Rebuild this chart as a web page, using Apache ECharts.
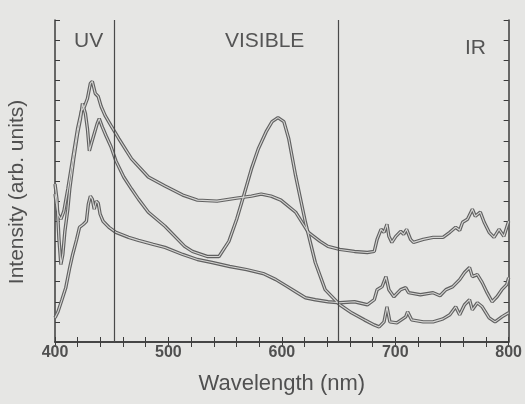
<!DOCTYPE html>
<html>
<head>
<meta charset="utf-8">
<script src="https://cdn.jsdelivr.net/npm/echarts@6/dist/echarts.min.js"></script>
<style>
  html, body { margin: 0; padding: 0; background: #e6e6e4; }
  #chart { width: 525px; height: 404px; }
</style>
</head>
<body>
<div id="chart"></div>
<script>
// Emission spectra, three samples (arbitrary intensity units)
const wavelengthA = [400,402.6,405.2,407.8,411.3,415.6,419.9,423.4,426,428.6,431.2,432.9,435.5,438.1,440.7,444.2,449.4,456.3,467.5,482.3,497,512.6,525.6,542.9,560.2,573.2,581.8,590.5,599.2,612.2,623.4,633.8,640.7,651.1,664.1,675.4,681.5,684,687.5,690.1,692.7,694.4,697,700.5,704.8,707.4,710,713.5,716.1,724.7,733.4,742.1,748.1,753.3,756.8,759.4,763.7,768,770.6,775,778.4,782.8,787.1,791.5,795.8,800];
const intensityA  = [147,127,122,130,152,182,212,230,234,242,257,259,247,244,234,225,215,202,182,164,155,146,141,140,143,145,147,145,141,129,109,100,95,92,90,89,90,102,112,109,117,105,99,105,110,107,112,102,99,102,104,104,109,114,111,119,122,132,125,129,119,109,104,112,105,120];

const wavelengthB = [400,401.7,403.5,405.2,406.9,408.7,411.3,413,416.5,419.9,422.5,424.2,426.8,428.6,430.3,432,434.6,437.2,439,441.6,445,449.4,453.7,460.6,467.5,473.6,482.3,497,514.3,521.2,534.2,544.6,553.3,560.2,566.3,573.2,579.3,586.2,591.4,596.6,601.8,606.1,612.2,620.8,629.5,638.2,649.4,651.1,661.5,672.8,681.5,685.8,690.1,692.7,695.3,701.4,709.2,710.9,714.4,724.7,733.4,742.1,748.1,753.3,756.8,761.1,765.5,768,772.4,776.7,782.8,788,794,800];
const intensityB  = [157,142,102,77,87,110,132,152,182,207,222,237,227,212,190,197,207,217,222,214,205,194,180,164,152,142,129,115,95,90,85,85,100,122,145,172,192,209,219,223,219,202,165,119,79,52,39,37,29,22,17,15,20,35,20,19,25,30,22,20,20,23,27,35,27,37,42,32,39,35,24,20,25,29];

const wavelengthC = [400,402.6,406.1,409.5,413,415.6,419.1,421.6,425.1,427.7,429.4,431.2,432.9,434.6,436.4,438.1,439.8,442.4,447.6,453.7,464.9,473.6,486.6,497,512.6,525.6,538.5,554.1,568.9,583.6,594.8,603.5,612.2,620.8,629.5,640.7,651.1,664.1,675.4,681.5,684,688.4,691.8,694.4,698.8,704.8,709.2,711.8,722.2,733.4,739.5,744.7,750.7,756.8,761.1,765.5,768,772.4,776.7,781,785.4,789.7,794,798.3,800];
const intensityC  = [24,30,42,54,74,87,102,114,117,120,137,145,142,132,140,138,127,120,114,109,104,101,97,94,87,82,79,75,72,68,62,56,50,44,42,40,39,40,37,42,52,55,65,52,45,52,54,49,47,49,46,52,55,62,69,74,65,67,59,49,40,45,52,57,64];

// Region boundaries (nm) and region names
const regionEdges = [452, 650];
const regionNames = ['UV', 'VISIBLE', 'IR'];
const xTickLabels = [400, 500, 600, 700, 800];

const pair = (xs, ys) => xs.map((x, i) => [x, ys[i]]);
const curves = [pair(wavelengthA, intensityA), pair(wavelengthB, intensityB), pair(wavelengthC, intensityC)];

const chart = echarts.init(document.getElementById('chart'), null, { renderer: 'canvas' });

const series = [];
// each trace is drawn as a dark stroke with a pale core
curves.forEach((d, k) => {
  series.push({
    type: 'line', data: d, showSymbol: false, silent: true,
    lineStyle: { color: '#616161', width: 3.4 }, z: 3,
    markLine: k === 0 ? {
      silent: true, symbol: 'none', label: { show: false },
      lineStyle: { color: '#4a4a4a', width: 1.2, type: 'solid' },
      data: regionEdges.map(v => ({ xAxis: v }))
    } : undefined
  });
  series.push({
    type: 'line', data: d, showSymbol: false, silent: true,
    lineStyle: { color: '#d6d6d4', width: 1.1 }, z: 4
  });
});

const edgeAxis = {
  axisLine: { show: true, lineStyle: { color: '#3c3c3c', width: 1.5 } },
  axisTick: { show: true, inside: true, length: 5, lineStyle: { color: '#3c3c3c' } },
  splitLine: { show: false }
};

chart.setOption({
  animation: false,
  backgroundColor: '#e6e6e4',
  grid: { left: 55, right: 8, top: 20, bottom: 62 },
  xAxis: [{
    type: 'value', min: 400, max: 800, interval: 20, position: 'bottom', ...edgeAxis,
    axisLabel: {
      color: '#505050', fontFamily: 'Liberation Sans', fontWeight: 'bold', fontSize: 16, margin: 3,
      formatter: v => xTickLabels.includes(v) ? String(v) : ''
    },
    name: 'Wavelength (nm)', nameLocation: 'middle', nameGap: 31,
    nameTextStyle: { color: '#505050', fontFamily: 'Liberation Sans', fontSize: 22 }
  }, {
    type: 'value', min: 400, max: 800, interval: 20, position: 'top', ...edgeAxis,
    axisLabel: { show: false }
  }],
  yAxis: [{
    type: 'value', min: 0, max: 320, interval: 20, position: 'left', ...edgeAxis,
    axisLabel: { show: false }
  }, {
    type: 'value', min: 0, max: 320, interval: 20, position: 'right', ...edgeAxis,
    axisLabel: { show: false }
  }],
  graphic: [
    { type: 'text', x: 17, y: 192, rotation: Math.PI / 2,
      style: { text: 'Intensity (arb. units)', fill: '#505050', font: '21px "Liberation Sans"', align: 'center', verticalAlign: 'middle' } },
    { type: 'text', left: 74, top: 31, style: { text: regionNames[0], fill: '#555', font: '21px "Liberation Sans"' } },
    { type: 'text', left: 225, top: 31, style: { text: regionNames[1], fill: '#555', font: '21px "Liberation Sans"' } },
    { type: 'text', left: 465, top: 38, style: { text: regionNames[2], fill: '#555', font: '21px "Liberation Sans"' } }
  ],
  series: series
});
</script>
</body>
</html>
